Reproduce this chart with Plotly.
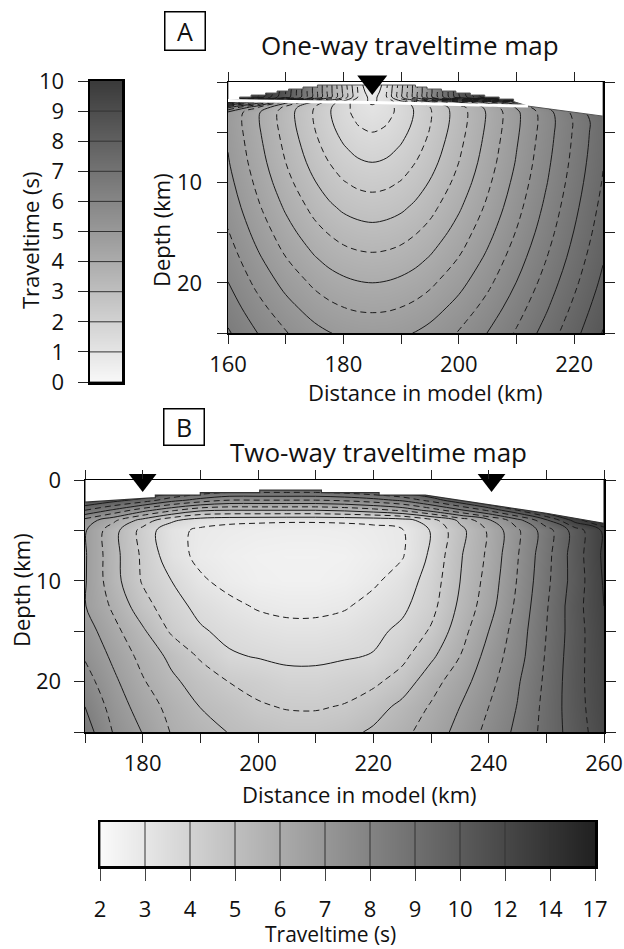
import numpy as np
import plotly.graph_objects as go

W, H = 624, 949

# ---------------- Panel A : one-way traveltime (s) ----------------
x_a = [160, 165, 170, 175, 177.5, 180, 182.5, 185, 187.5, 190, 192.5, 195, 200, 205, 210, 215, 220, 225]
z_a = [0, 1, 1.5, 2, 2.5, 3, 4, 5, 6.5, 8, 10, 12.5, 15, 17.5, 20, 22.5, 25]
tt_a = [
    [12.0, 11.0, 8.6, 5.8, 4.3, 2.8, 1.4, 0.0, 1.4, 2.8, 4.3, 5.8, 8.6, 11.0, 12.0, 12.0, 12.0, 12.0],
    [11.5, 10.8, 8.5, 5.8, 4.3, 2.9, 1.5, 0.5, 1.5, 2.9, 4.3, 5.8, 8.5, 10.8, 11.5, 11.5, 11.5, 11.5],
    [11.0, 10.5, 8.4, 5.8, 4.3, 2.9, 1.5, 0.75, 1.5, 2.9, 4.3, 5.8, 8.4, 10.5, 11.0, 11.0, 11.0, 11.0],
    [8.50, 6.50, 4.20, 2.90, 2.30, 1.75, 1.25, 0.90, 1.25, 1.75, 2.30, 2.90, 4.00, 5.30, 6.80, 7.60, 8.40, 9.20],
    [6.20, 4.60, 3.35, 2.50, 2.08, 1.68, 1.30, 1.09, 1.30, 1.68, 2.08, 2.50, 3.30, 4.15, 5.05, 6.00, 7.00, 7.90],
    [4.95, 4.10, 3.25, 2.45, 2.05, 1.66, 1.33, 1.17, 1.33, 1.66, 2.05, 2.45, 3.25, 4.06, 4.90, 5.75, 6.65, 7.55],
    [4.89, 4.07, 3.26, 2.47, 2.09, 1.74, 1.46, 1.34, 1.46, 1.74, 2.09, 2.47, 3.26, 4.07, 4.89, 5.71, 6.54, 7.37],
    [4.92, 4.11, 3.31, 2.53, 2.17, 1.85, 1.60, 1.50, 1.60, 1.85, 2.17, 2.53, 3.31, 4.11, 4.92, 5.74, 6.56, 7.39],
    [4.98, 4.18, 3.40, 2.66, 2.32, 2.04, 1.83, 1.75, 1.83, 2.04, 2.32, 2.66, 3.40, 4.18, 4.98, 5.79, 6.60, 7.42],
    [5.04, 4.26, 3.50, 2.80, 2.50, 2.24, 2.07, 2.00, 2.07, 2.24, 2.50, 2.80, 3.50, 4.26, 5.04, 5.85, 6.65, 7.47],
    [5.16, 4.40, 3.67, 3.03, 2.75, 2.53, 2.39, 2.34, 2.39, 2.53, 2.75, 3.03, 3.67, 4.40, 5.16, 5.94, 6.74, 7.54],
    [5.33, 4.60, 3.93, 3.34, 3.10, 2.91, 2.80, 2.75, 2.80, 2.91, 3.10, 3.34, 3.93, 4.60, 5.33, 6.09, 6.87, 7.66],
    [5.53, 4.84, 4.21, 3.67, 3.47, 3.31, 3.21, 3.17, 3.21, 3.31, 3.47, 3.67, 4.21, 4.84, 5.53, 6.26, 7.02, 7.79],
    [5.76, 5.10, 4.51, 4.03, 3.84, 3.70, 3.62, 3.59, 3.62, 3.70, 3.84, 4.03, 4.51, 5.10, 5.76, 6.46, 7.19, 7.95],
    [6.01, 5.38, 4.84, 4.40, 4.23, 4.11, 4.03, 4.00, 4.03, 4.11, 4.23, 4.40, 4.84, 5.38, 6.01, 6.68, 7.39, 8.12],
    [6.28, 5.69, 5.18, 4.77, 4.62, 4.51, 4.44, 4.42, 4.44, 4.51, 4.62, 4.77, 5.18, 5.69, 6.28, 6.92, 7.61, 8.32],
    [6.56, 6.01, 5.53, 5.16, 5.02, 4.92, 4.86, 4.84, 4.86, 4.92, 5.02, 5.16, 5.53, 6.01, 6.56, 7.18, 7.84, 8.53],
]
topo_a_x = [160, 162, 162, 164, 164, 166.5, 166.5, 168.5, 168.5, 170.5, 170.5, 173, 173, 175.5, 175.5,
            192.5, 192.5, 194.5, 194.5, 197, 197, 199.5, 199.5, 202, 202, 204.5, 204.5, 207, 207,
            209.5, 209.5, 212, 225]
topo_a_z = [1.75, 1.75, 1.5, 1.5, 1.3, 1.3, 1.1, 1.1, 0.9, 0.9, 0.7, 0.7, 0.5, 0.5, 0.3,
            0.3, 0.5, 0.5, 0.7, 0.7, 0.9, 0.9, 1.1, 1.1, 1.3, 1.3, 1.5, 1.5, 1.7,
            1.7, 1.95, 2.4, 3.4]
layer_a_x = [160, 185, 212]
layer_a_z = [1.85, 2.05, 2.4]
station_a_x = [185]
levels_a = [0, 1, 2, 3, 4, 5, 6, 7, 8, 9, 10]

# ---------------- Panel B : two-way traveltime (s) ----------------
x_b = [170, 175, 180, 185, 190, 195, 200, 205, 210, 215, 220, 225, 230, 235, 240, 245, 250, 255, 260]
z_b = [0, 1, 2, 3, 4, 5, 7.5, 10, 12.5, 15, 17.5, 20, 22.5, 25]
tt_b = [
    [9.0, 8.8, 8.5, 8.0, 7.5, 7.2, 7.0, 7.0, 7.0, 7.1, 7.3, 7.5, 8.0, 8.5, 9.0, 9.5, 10.0, 10.6, 11.4],
    [8.6, 8.3, 7.9, 7.4, 7.0, 6.8, 6.8, 6.8, 6.8, 6.9, 7.1, 7.4, 7.8, 8.3, 8.8, 9.3, 9.8, 10.4, 11.0],
    [7.6, 7.2, 6.8, 6.2, 5.8, 5.5, 5.5, 5.5, 5.5, 5.6, 5.8, 6.1, 6.7, 7.4, 8.2, 8.9, 9.5, 10.0, 10.6],
    [6.5, 5.9, 5.2, 4.6, 4.1, 4.0, 4.0, 4.0, 4.0, 4.1, 4.3, 4.6, 5.2, 5.9, 6.6, 7.5, 8.5, 9.3, 10.0],
    [5.3, 4.6, 3.8, 3.1, 2.7, 2.6, 2.58, 2.56, 2.56, 2.58, 2.62, 2.75, 3.3, 4.1, 4.9, 5.8, 6.9, 8.2, 9.3],
    [5.05, 4.17, 3.33, 2.64, 2.42, 2.35, 2.30, 2.28, 2.28, 2.30, 2.36, 2.46, 3.03, 3.84, 4.57, 5.42, 6.27, 7.23, 8.10],
    [5.05, 4.17, 3.41, 2.71, 2.38, 2.25, 2.18, 2.15, 2.15, 2.18, 2.30, 2.46, 3.09, 3.94, 4.60, 5.47, 6.33, 7.25, 8.10],
    [5.04, 4.19, 3.45, 3.00, 2.57, 2.35, 2.22, 2.18, 2.18, 2.25, 2.42, 2.71, 3.22, 3.99, 4.69, 5.53, 6.38, 7.22, 8.05],
    [5.02, 4.40, 3.70, 3.19, 2.86, 2.62, 2.45, 2.38, 2.38, 2.45, 2.66, 2.89, 3.33, 4.10, 4.79, 5.62, 6.45, 7.30, 8.00],
    [5.25, 4.65, 4.08, 3.43, 3.06, 2.87, 2.72, 2.64, 2.64, 2.72, 2.88, 3.11, 3.56, 4.28, 5.00, 5.73, 6.50, 7.27, 7.95],
    [5.45, 4.89, 4.34, 3.88, 3.44, 3.06, 2.97, 2.89, 2.89, 2.95, 3.03, 3.37, 3.90, 4.50, 5.19, 5.80, 6.55, 7.30, 7.90],
    [5.72, 5.10, 4.55, 4.10, 3.78, 3.49, 3.36, 3.20, 3.19, 3.30, 3.40, 3.71, 4.30, 4.78, 5.33, 5.94, 6.60, 7.32, 7.87],
    [6.00, 5.29, 4.77, 4.34, 3.99, 3.80, 3.55, 3.47, 3.46, 3.53, 3.77, 4.14, 4.55, 5.00, 5.50, 6.02, 6.65, 7.30, 7.85],
    [6.25, 5.46, 4.98, 4.47, 4.22, 3.98, 3.85, 3.72, 3.72, 3.85, 4.08, 4.37, 4.72, 5.16, 5.64, 6.11, 6.67, 7.25, 7.80],
]
topo_b_x = [170, 182.2, 182.2, 190, 190, 200.3, 200.3, 211, 211, 221, 221, 229, 235, 243, 250, 260]
topo_b_z = [2.2, 1.75, 1.5, 1.5, 1.26, 1.26, 1.0, 1.0, 1.26, 1.26, 1.5, 1.5, 2.0, 2.65, 3.3, 4.3]
station_b_x = [180, 240.5]
levels_b = [2, 3, 4, 5, 6, 7, 8, 9, 10, 12, 14, 17]

# ---------------- helpers ----------------
def px(x):
    return x / W

def py(y):
    return 1 - y / H

FONT = "Open Sans"
INK = "#1a1a1a"
DASH = "6px,4px"

gray_a = [[0, "rgb(248,248,248)"], [1, "rgb(58,58,58)"]]
gray_b_fill = [[0, "rgb(246,246,246)"], [3 / 11, "rgb(158,158,158)"], [6 / 11, "rgb(66,66,66)"],
               [7 / 11, "rgb(50,50,50)"], [1, "rgb(36,36,36)"]]
gray_b_bar = [[0, "rgb(250,250,250)"], [1, "rgb(32,32,32)"]]

idx_levels_b = list(range(len(levels_b)))
idx_b = np.interp(np.array(tt_b), levels_b, idx_levels_b)

fig = go.Figure()

# ---- panel A ----
fig.add_trace(go.Contour(x=x_a, y=z_a, z=tt_a, xaxis="x", yaxis="y", colorscale=gray_a,
                         zmin=0, zmax=10, showscale=False, hoverinfo="skip",
                         contours=dict(start=1, end=12, size=1, coloring="heatmap", showlines=True),
                         line=dict(color=INK, width=1)))
fig.add_trace(go.Contour(x=x_a, y=z_a, z=tt_a, xaxis="x", yaxis="y", showscale=False, hoverinfo="skip",
                         contours=dict(start=0.5, end=12.5, size=1, coloring="none", showlines=True),
                         line=dict(color=INK, width=1, dash=DASH)))
fig.add_trace(go.Scatter(x=[160] + topo_a_x + [225, 160], y=[-1] + topo_a_z + [-1, -1],
                         xaxis="x", yaxis="y", mode="lines", fill="toself", fillcolor="white",
                         line=dict(color="#555", width=1), hoverinfo="skip"))
fig.add_trace(go.Scatter(x=layer_a_x, y=layer_a_z, xaxis="x", yaxis="y", mode="lines",
                         line=dict(color="white", width=3), hoverinfo="skip"))
fig.add_trace(go.Scatter(x=station_a_x, y=[0] * len(station_a_x), xaxis="x", yaxis="y", mode="markers",
                         marker=dict(symbol="triangle-down", size=26, color="black"), cliponaxis=False))

# ---- panel B ----
fig.add_trace(go.Contour(x=x_b, y=z_b, z=idx_b, xaxis="x2", yaxis="y2", colorscale=gray_b_fill,
                         zmin=0, zmax=11, showscale=False, hoverinfo="skip",
                         contours=dict(start=1, end=11, size=1, coloring="heatmap", showlines=True),
                         line=dict(color=INK, width=1)))
fig.add_trace(go.Contour(x=x_b, y=z_b, z=idx_b, xaxis="x2", yaxis="y2", showscale=False, hoverinfo="skip",
                         contours=dict(start=0.5, end=10.5, size=1, coloring="none", showlines=True),
                         line=dict(color=INK, width=1, dash=DASH)))
fig.add_trace(go.Scatter(x=[170] + topo_b_x + [260, 170], y=[-1] + topo_b_z + [-1, -1],
                         xaxis="x2", yaxis="y2", mode="lines", fill="toself", fillcolor="white",
                         line=dict(color="#333", width=1.2), hoverinfo="skip"))
fig.add_trace(go.Scatter(x=station_b_x, y=[0] * len(station_b_x), xaxis="x2", yaxis="y2", mode="markers",
                         marker=dict(symbol="triangle-down", size=24, color="black"), cliponaxis=False))

# ---- colour scale A (vertical) ----
eps = 1e-4
fig.add_trace(go.Contour(x=[0, 1], y=levels_a, z=[[v, v] for v in levels_a], xaxis="x3", yaxis="y3",
                         colorscale=gray_a, zmin=0, zmax=10, showscale=False, hoverinfo="skip",
                         contours=dict(start=levels_a[0] + eps, end=levels_a[-1], size=1,
                                       coloring="heatmap", showlines=True),
                         line=dict(color="#333", width=1)))
# ---- colour scale B (horizontal) ----
fig.add_trace(go.Contour(x=idx_levels_b, y=[0, 1], z=[idx_levels_b, idx_levels_b], xaxis="x4", yaxis="y4",
                         colorscale=gray_b_bar, zmin=0, zmax=11, showscale=False, hoverinfo="skip",
                         contours=dict(start=eps, end=11, size=1, coloring="heatmap", showlines=True),
                         line=dict(color="#333", width=1)))

tickfont = dict(family=FONT, size=22, color="#111")
common = dict(showgrid=False, zeroline=False, showline=True, linecolor="black", linewidth=1.5,
              ticks="outside", tickcolor="#222", tickwidth=1, tickfont=tickfont, automargin=False)

fig.update_layout(
    width=W, height=949, autosize=False,
    margin=dict(l=0, r=0, t=0, b=0, pad=0, autoexpand=False),
    paper_bgcolor="white", plot_bgcolor="white",
    showlegend=False,
    font=dict(family=FONT, color="#111"),
    xaxis=dict(domain=[px(228), px(603)], anchor="y", range=[160, 225],
               tickvals=[160, 170, 180, 190, 200, 210, 220],
               ticktext=["160", "", "180", "", "200", "", "220"],
               ticklen=9, mirror="ticks", ticklabelstandoff=2, **common),
    yaxis=dict(domain=[py(333), py(82)], anchor="x", range=[25, 0],
               tickvals=[0, 5, 10, 15, 20, 25], ticktext=["", "", "10", "", "20", ""],
               ticklen=10, mirror="ticks", ticklabelstandoff=10, **common),
    xaxis2=dict(domain=[px(85), px(604)], anchor="y2", range=[170, 260],
                tickvals=[170, 180, 190, 200, 210, 220, 230, 240, 250, 260],
                ticktext=["", "180", "", "200", "", "220", "", "240", "", "260"],
                ticklen=9, mirror="ticks", ticklabelstandoff=2, **common),
    yaxis2=dict(domain=[py(732), py(480)], anchor="x2", range=[25, 0],
                tickvals=[0, 5, 10, 15, 20, 25], ticktext=["0", "", "10", "", "20", ""],
                ticklen=10, mirror="ticks", ticklabelstandoff=8, **common),
    xaxis3=dict(domain=[px(90), px(122)], anchor="y3", range=[0, 1], showgrid=False, zeroline=False,
                showline=True, linecolor="black", linewidth=2.5, mirror=True, ticks="",
                showticklabels=False, automargin=False),
    yaxis3=dict(domain=[py(382), py(81)], anchor="x3", range=[0, 10], tickvals=levels_a,
                showgrid=False, zeroline=False, showline=True, linecolor="black", linewidth=2.5, mirror=True,
                ticks="outside", ticklen=10, tickcolor="#222", tickwidth=1, tickfont=tickfont,
                ticklabelstandoff=9, automargin=False),
    xaxis4=dict(domain=[px(100), px(595)], anchor="y4", range=[0, 11], tickvals=idx_levels_b,
                ticktext=[str(v) for v in levels_b],
                showgrid=False, zeroline=False, showline=True, linecolor="black", linewidth=2.5, mirror=True,
                ticks="outside", ticklen=12, tickcolor="#444", tickwidth=1, tickfont=tickfont,
                ticklabelstandoff=10, automargin=False),
    yaxis4=dict(domain=[py(866), py(822)], anchor="x4", range=[0, 1], showgrid=False, zeroline=False,
                showline=True, linecolor="black", linewidth=2.5, mirror=True, ticks="",
                showticklabels=False, automargin=False),
)

def note(text, x, y, size=21, angle=0, **kw):
    fig.add_annotation(text=text, x=px(x), y=py(y), xref="paper", yref="paper", showarrow=False,
                       xanchor="center", yanchor="middle", textangle=angle,
                       font=dict(family=FONT, size=size, color="#111"), **kw)

note("A", 185, 31, size=25, bordercolor="black", borderwidth=1.5, width=37, height=35)
note("B", 183.5, 427.5, size=25, bordercolor="black", borderwidth=1.5, width=37, height=33)
note("One-way traveltime map", 410, 45, size=26)
note("Two-way traveltime map", 379, 452, size=26)
note("Depth (km)", 161, 230, size=22, angle=-90)
note("Depth (km)", 21, 590, size=22, angle=-90)
note("Distance in model (km)", 425, 392, size=22)
note("Distance in model (km)", 359, 794, size=22)
note("Traveltime (s)", 30, 240, size=22, angle=-90)
note("Traveltime (s)", 330, 934, size=21)

fig.write_html("out.html", config={"displayModeBar": False, "staticPlot": True},
               post_script="document.body.style.margin='0';document.body.style.overflow='hidden';")
